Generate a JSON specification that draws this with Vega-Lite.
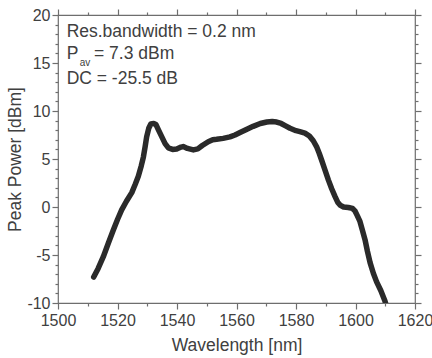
{
  "$schema": "https://vega.github.io/schema/vega-lite/v6.json",
  "width": 357,
  "height": 288,
  "autosize": "none",
  "padding": {"left": 58, "top": 15, "right": 17, "bottom": 55},
  "background": "white",
  "config": {
    "view": {"stroke": "#6e6e6e", "strokeWidth": 1.2},
    "axis": {
      "grid": false,
      "domain": false,
      "tickColor": "#6e6e6e",
      "tickWidth": 1.2,
      "labelFont": "Liberation Sans",
      "labelFontSize": 16,
      "labelColor": "#404040",
      "labelFlush": false,
      "labelOverlap": false,
      "labelBound": false,
      "titleFont": "Liberation Sans",
      "titleFontSize": 17.5,
      "titleFontWeight": "normal",
      "titleColor": "#404040"
    },
    "text": {"font": "Liberation Sans", "color": "#404040"}
  },
  "data": {
    "values": [
      {"wl": 1512.0, "p": -7.3}, {"wl": 1513.5, "p": -6.4}, {"wl": 1515.2, "p": -5.2},
      {"wl": 1517.0, "p": -3.7}, {"wl": 1518.6, "p": -2.4}, {"wl": 1520.0, "p": -1.3},
      {"wl": 1521.4, "p": -0.3}, {"wl": 1523.0, "p": 0.6}, {"wl": 1524.8, "p": 1.5},
      {"wl": 1526.0, "p": 2.4}, {"wl": 1527.0, "p": 3.2}, {"wl": 1528.0, "p": 4.3},
      {"wl": 1528.7, "p": 5.2}, {"wl": 1529.3, "p": 6.3}, {"wl": 1529.8, "p": 7.3},
      {"wl": 1530.5, "p": 8.2}, {"wl": 1531.2, "p": 8.65}, {"wl": 1532.2, "p": 8.7},
      {"wl": 1532.9, "p": 8.6}, {"wl": 1533.8, "p": 8.0}, {"wl": 1534.9, "p": 7.3},
      {"wl": 1536.0, "p": 6.6}, {"wl": 1537.1, "p": 6.15}, {"wl": 1538.5, "p": 6.0},
      {"wl": 1539.9, "p": 6.05}, {"wl": 1541.0, "p": 6.2}, {"wl": 1542.1, "p": 6.3},
      {"wl": 1543.5, "p": 6.1}, {"wl": 1545.5, "p": 5.95}, {"wl": 1547.0, "p": 6.05},
      {"wl": 1548.5, "p": 6.4}, {"wl": 1550.5, "p": 6.8}, {"wl": 1552.0, "p": 7.0},
      {"wl": 1553.3, "p": 7.05}, {"wl": 1555.5, "p": 7.15}, {"wl": 1557.8, "p": 7.3},
      {"wl": 1559.5, "p": 7.5}, {"wl": 1561.2, "p": 7.75}, {"wl": 1563.5, "p": 8.1},
      {"wl": 1565.6, "p": 8.4}, {"wl": 1568.0, "p": 8.7}, {"wl": 1570.2, "p": 8.85},
      {"wl": 1572.0, "p": 8.9}, {"wl": 1573.5, "p": 8.85}, {"wl": 1575.0, "p": 8.7},
      {"wl": 1576.5, "p": 8.45}, {"wl": 1578.0, "p": 8.2}, {"wl": 1580.0, "p": 7.95},
      {"wl": 1581.3, "p": 7.85}, {"wl": 1583.0, "p": 7.7}, {"wl": 1584.5, "p": 7.4},
      {"wl": 1585.8, "p": 6.9}, {"wl": 1586.9, "p": 6.3}, {"wl": 1587.8, "p": 5.6},
      {"wl": 1588.6, "p": 4.9}, {"wl": 1589.7, "p": 3.9}, {"wl": 1590.9, "p": 2.8},
      {"wl": 1592.0, "p": 1.9}, {"wl": 1593.1, "p": 1.1}, {"wl": 1594.0, "p": 0.5},
      {"wl": 1594.8, "p": 0.2}, {"wl": 1596.0, "p": 0.0}, {"wl": 1597.6, "p": -0.05},
      {"wl": 1599.0, "p": -0.15}, {"wl": 1599.8, "p": -0.4}, {"wl": 1600.6, "p": -0.9},
      {"wl": 1601.5, "p": -1.5}, {"wl": 1602.3, "p": -2.4}, {"wl": 1603.2, "p": -3.4},
      {"wl": 1604.0, "p": -4.6}, {"wl": 1604.9, "p": -5.8}, {"wl": 1606.0, "p": -6.9},
      {"wl": 1607.1, "p": -7.8}, {"wl": 1608.5, "p": -8.7}, {"wl": 1609.9, "p": -9.8},
      {"wl": 1610.1, "p": -10.0}
    ]
  },
  "resolve": {"axis": {"x": "independent", "y": "independent"}},
  "layer": [
    {
      "mark": {"type": "line", "color": "#2a2a2a", "strokeWidth": 5.5, "strokeCap": "round", "strokeJoin": "round", "clip": true},
      "encoding": {
        "x": {
          "field": "wl", "type": "quantitative",
          "scale": {"domain": [1500, 1620], "nice": false, "zero": false},
          "axis": {
            "orient": "bottom",
            "values": [1500, 1520, 1540, 1560, 1580, 1600, 1620],
            "tickSize": 6, "labelPadding": 3,
            "labelExpr": "datum.value + ''",
            "title": "Wavelength [nm]", "titlePadding": 8
          }
        },
        "y": {
          "field": "p", "type": "quantitative",
          "scale": {"domain": [-10, 20], "nice": false, "zero": false},
          "axis": {
            "orient": "left",
            "values": [-10, -5, 0, 5, 10, 15, 20],
            "tickSize": 6, "labelPadding": 2,
            "labelExpr": "datum.value + ''",
            "title": "Peak Power [dBm]", "titlePadding": 2
          }
        }
      }
    },
    {
      "mark": {"type": "line", "opacity": 0},
      "encoding": {
        "x": {"field": "wl", "type": "quantitative",
          "axis": {"orient": "bottom", "values": [1510, 1530, 1550, 1570, 1590, 1610], "tickSize": 3, "labels": false, "title": null}},
        "y": {"field": "p", "type": "quantitative",
          "axis": {"orient": "left", "values": [-9, -8, -7, -6, -4, -3, -2, -1, 1, 2, 3, 4, 6, 7, 8, 9, 11, 12, 13, 14, 16, 17, 18, 19], "tickSize": 3, "labels": false, "title": null}}
      }
    },
    {
      "mark": {"type": "line", "opacity": 0},
      "encoding": {
        "x": {"field": "wl", "type": "quantitative",
          "axis": {"orient": "top", "values": [1500, 1520, 1540, 1560, 1580, 1600, 1620], "tickSize": 6, "labels": false, "title": null}},
        "y": {"field": "p", "type": "quantitative",
          "axis": {"orient": "right", "values": [-10, -5, 0, 5, 10, 15, 20], "tickSize": 6, "labels": false, "title": null}}
      }
    },
    {
      "mark": {"type": "line", "opacity": 0},
      "encoding": {
        "x": {"field": "wl", "type": "quantitative",
          "axis": {"orient": "top", "values": [1510, 1530, 1550, 1570, 1590, 1610], "tickSize": 3, "labels": false, "title": null}},
        "y": {"field": "p", "type": "quantitative",
          "axis": {"orient": "right", "values": [-9, -8, -7, -6, -4, -3, -2, -1, 1, 2, 3, 4, 6, 7, 8, 9, 11, 12, 13, 14, 16, 17, 18, 19], "tickSize": 3, "labels": false, "title": null}}
      }
    },
    {
      "data": {"values": [{}]},
      "mark": {"type": "text", "text": "Res.bandwidth = 0.2 nm", "align": "left", "baseline": "alphabetic", "fontSize": 17.5},
      "encoding": {
        "x": {"datum": 1502.9, "type": "quantitative", "axis": null},
        "y": {"datum": 17.71, "type": "quantitative", "axis": null}
      }
    },
    {
      "data": {"values": [{}]},
      "mark": {"type": "text", "text": "P", "align": "left", "baseline": "alphabetic", "fontSize": 17.5},
      "encoding": {
        "x": {"datum": 1502.9, "type": "quantitative", "axis": null},
        "y": {"datum": 15.42, "type": "quantitative", "axis": null}
      }
    },
    {
      "data": {"values": [{}]},
      "mark": {"type": "text", "text": "av", "align": "left", "baseline": "alphabetic", "fontSize": 10},
      "encoding": {
        "x": {"datum": 1507.3, "type": "quantitative", "axis": null},
        "y": {"datum": 14.72, "type": "quantitative", "axis": null}
      }
    },
    {
      "data": {"values": [{}]},
      "mark": {"type": "text", "text": "= 7.3 dBm", "align": "left", "baseline": "alphabetic", "fontSize": 17.5},
      "encoding": {
        "x": {"datum": 1512.1, "type": "quantitative", "axis": null},
        "y": {"datum": 15.42, "type": "quantitative", "axis": null}
      }
    },
    {
      "data": {"values": [{}]},
      "mark": {"type": "text", "text": "DC = -25.5 dB", "align": "left", "baseline": "alphabetic", "fontSize": 17.5},
      "encoding": {
        "x": {"datum": 1502.9, "type": "quantitative", "axis": null},
        "y": {"datum": 12.86, "type": "quantitative", "axis": null}
      }
    }
  ]
}
